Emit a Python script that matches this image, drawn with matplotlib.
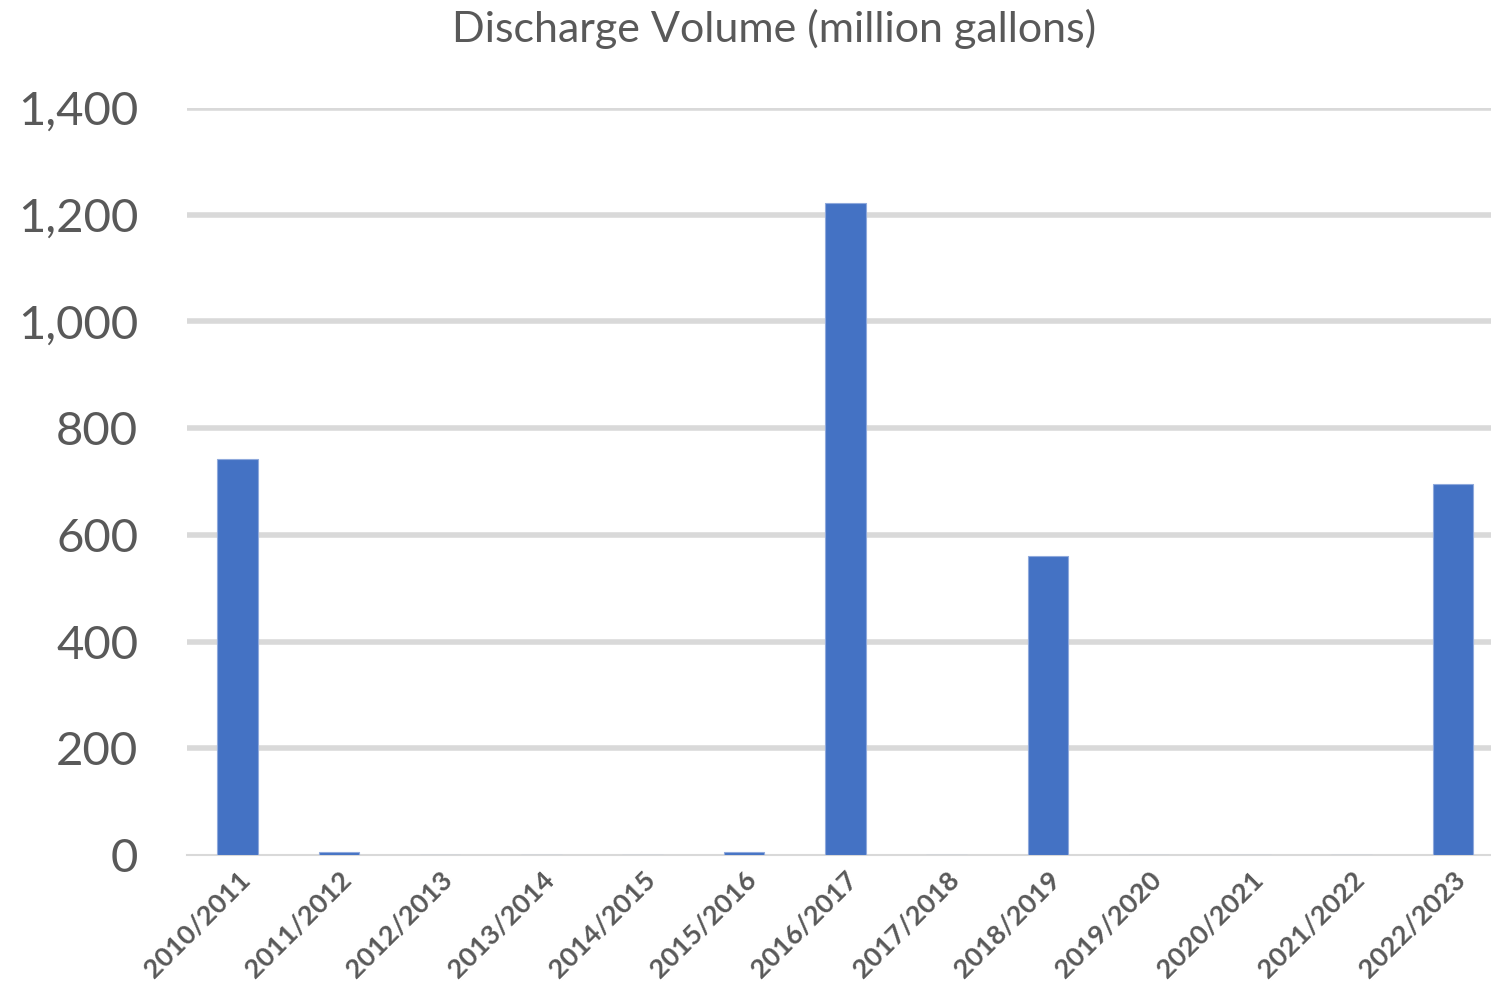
import numpy as np
import matplotlib.pyplot as plt

seasons = ["2010/2011", "2011/2012", "2012/2013", "2013/2014", "2014/2015",
           "2015/2016", "2016/2017", "2017/2018", "2018/2019", "2019/2020",
           "2020/2021", "2021/2022", "2022/2023"]
volume = [742, 5, 0, 0, 0, 5, 1222, 0, 560, 0, 0, 0, 695]
yticks = [0, 200, 400, 600, 800, 1000, 1200, 1400]

grey = "#595959"
plt.rcParams["font.family"] = ["Lato", "DejaVu Sans"]

fig = plt.figure(figsize=(14.91, 9.93), dpi=100)
ax = fig.add_axes([0.1254, 0.139, 0.8746, 0.7523])

x = np.arange(len(seasons))
ax.bar(x, volume, width=0.4, color="#4472C4", edgecolor="#8fa9dc",
       linewidth=0.8, zorder=3)

for t in yticks[1:]:
    ax.axhline(t, color="#d9d9d9", linewidth=4, zorder=1)

ax.set_xlim(-0.5, 12.375)
ax.set_ylim(0, 1400)
ax.set_yticks(yticks)
ax.set_yticklabels([f"{v:,}" for v in yticks], fontsize=34, color=grey)
ax.set_xticks(x)
ax.set_xticklabels(seasons, rotation=45, ha="right", rotation_mode="anchor",
                   fontsize=19.5, fontweight="bold", color=grey)
ax.tick_params(axis="both", length=0)
ax.tick_params(axis="y", pad=35)
ax.tick_params(axis="x", pad=9)

for s in ["top", "right", "left"]:
    ax.spines[s].set_visible(False)
ax.spines["bottom"].set_color("#d9d9d9")
ax.spines["bottom"].set_linewidth(1.5)

fig.text(0.519, 0.971, "Discharge Volume (million gallons)", ha="center",
         va="center", fontsize=31, color=grey)

fig.savefig("out.png", dpi=100)
